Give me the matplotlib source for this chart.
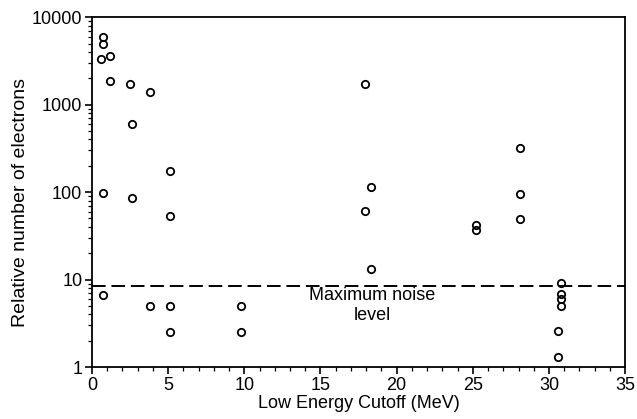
import matplotlib
matplotlib.use("Agg")
import matplotlib.pyplot as plt
from matplotlib.ticker import LogLocator, NullFormatter, MultipleLocator, FixedLocator

plt.rcParams['font.family'] = ['Liberation Sans', 'DejaVu Sans']

cutoff_mev = [0.7, 0.7, 0.6, 1.2, 1.2, 2.5, 2.6, 3.8, 5.1, 0.7, 2.6, 5.1,
              0.7, 3.8, 5.1, 5.1, 9.8, 9.8,
              17.9, 18.3, 17.9, 18.3,
              25.2, 25.2, 28.1, 28.1, 28.1,
              30.8, 30.8, 30.8, 30.8, 30.6, 30.6]
rel_electrons = [5900, 5000, 3300, 3600, 1870, 1720, 600, 1390, 174, 97, 86, 54,
                 6.7, 5.0, 5.0, 2.5, 5.0, 2.5,
                 1720, 114, 61, 13.2,
                 42, 36.5, 318, 95, 49,
                 9.1, 6.8, 6.0, 5.0, 2.55, 1.3]
noise_level = 8.5
noise_label = "Maximum noise\nlevel"
x_ticks = [0, 5, 10, 15, 20, 25, 30, 35]
y_ticks = [1, 10, 100, 1000, 10000]
y_ticklabels = ["1", "10", "100", "1000", "10000"]

fig = plt.figure(figsize=(6.37, 4.19), dpi=100)
ax = fig.add_axes([0.1444, 0.124, 0.837, 0.835])

ax.plot(cutoff_mev, rel_electrons, linestyle='none', marker='o', markersize=5.3,
        markerfacecolor='none', markeredgecolor='black', markeredgewidth=1.3)
ax.axhline(noise_level, color='black', linewidth=1.4, dashes=(7, 3))
ax.text(18.4, noise_level * 0.98, noise_label, ha='center', va='top', fontsize=13,
        linespacing=1.25)

ax.set_yscale('log')
ax.set_xlim(0, 35)
ax.set_ylim(1, 10000)
ax.xaxis.set_major_locator(FixedLocator(x_ticks))
ax.xaxis.set_minor_locator(MultipleLocator(1))
ax.yaxis.set_major_locator(FixedLocator(y_ticks))
ax.set_yticklabels(y_ticklabels)
ax.yaxis.set_minor_locator(LogLocator(base=10, subs=range(2, 10)))
ax.yaxis.set_minor_formatter(NullFormatter())

ax.tick_params(axis='both', which='major', direction='out', length=5, width=1.2,
               labelsize=13, pad=2)
ax.tick_params(axis='both', which='minor', direction='out', length=3, width=0.9)
for s in ax.spines.values():
    s.set_linewidth(1.3)

ax.set_xlabel("Low Energy Cutoff (MeV)", fontsize=13, labelpad=1)
ax.set_ylabel("Relative number of electrons", fontsize=14)
ax.yaxis.set_label_coords(-0.118, 0.471)

fig.savefig("out.png", dpi=100)
